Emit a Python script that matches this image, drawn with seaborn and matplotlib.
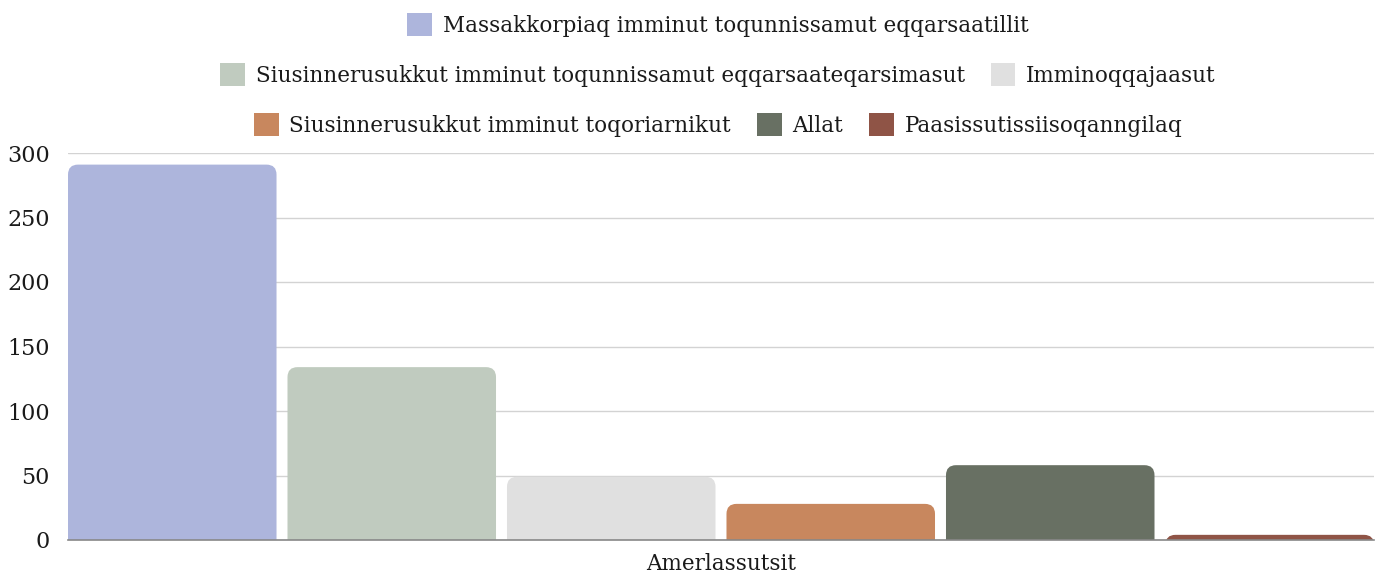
import matplotlib
matplotlib.use("Agg")
import matplotlib.pyplot as plt
from matplotlib.patches import FancyBboxPatch, Patch
import seaborn as sns
import pandas as pd

# Data
category = "Amerlassutsit"
series = [
    "Massakkorpiaq imminut toqunnissamut eqqarsaatillit",
    "Siusinnerusukkut imminut toqunnissamut eqqarsaateqarsimasut",
    "Imminoqqajaasut",
    "Siusinnerusukkut imminut toqoriarnikut",
    "Allat",
    "Paasissutissiisoqanngilaq",
]
values = [291, 134, 49, 28, 58, 4]
colors = ["#adb5dc", "#c0cbbf", "#e0e0e0", "#c8875e", "#687063", "#8f5446"]
yticks = [0, 50, 100, 150, 200, 250, 300]

df = pd.DataFrame({"kategori": [category] * len(series), "serie": series, "amerlassusia": values})

sns.set_theme(style="white")
plt.rcParams["font.family"] = ["DejaVu Serif", "Liberation Serif"]

FS = 15.5
TXT = "#1a1a1a"

fig = plt.figure(figsize=(13.86, 5.74), dpi=100)
ax = fig.add_axes([68 / 1386, 34 / 574, 1306 / 1386, 387 / 574])

sns.barplot(data=df, x="kategori", y="amerlassusia", hue="serie", hue_order=series,
            palette=colors, width=1.0, gap=0.05, legend=False, ax=ax, saturation=1)

# Let the outer bars touch the plot edges
lefts = [p.get_x() for p in ax.patches]
rights = [p.get_x() + p.get_width() for p in ax.patches]
ax.set_xlim(min(lefts), max(rights))
ax.set_ylim(0, 300)

# Replace plain rectangles with bars whose top corners are rounded
x0_lim, x1_lim = ax.get_xlim()
px_x = (x1_lim - x0_lim) / 1306   # data units per pixel, x
px_y = 300.0 / 387                # data units per pixel, y
radius_px = 10
for patch in list(ax.patches):
    x0, w, h = patch.get_x(), patch.get_width(), patch.get_height()
    fc = patch.get_facecolor()
    patch.remove()
    ext = radius_px * px_y
    rounded = FancyBboxPatch(
        (x0, -ext), w, h + ext,
        boxstyle=f"round,pad=0,rounding_size={radius_px * px_x}",
        mutation_aspect=px_y / px_x,
        facecolor=fc, edgecolor="none", linewidth=0, zorder=2,
    )
    rounded.set_clip_path(ax.patch)
    ax.add_patch(rounded)

ax.set_yticks(yticks)
ax.set_yticklabels([str(t) for t in yticks], fontsize=FS + 0.5, color=TXT)
ax.yaxis.grid(True, color="#d3d3d3", linewidth=1)
ax.set_axisbelow(True)
ax.tick_params(axis="y", length=0, pad=13)
ax.tick_params(axis="x", length=0, pad=9, labelsize=FS, labelcolor=TXT)
ax.set_xlabel("")
ax.set_ylabel("")
for side in ["left", "right", "top"]:
    ax.spines[side].set_visible(False)
ax.spines["bottom"].set_color("#888888")
ax.spines["bottom"].set_linewidth(1.2)

# Legend laid out in three rows, centred over the plot area
rows = [[0], [1, 2], [3, 4, 5]]
row_y = [549, 499, 449]
legend_cx = 718 / 1386
for idx_list, yp in zip(rows, row_y):
    handles = [Patch(facecolor=colors[i], edgecolor="none") for i in idx_list]
    labels = [series[i] for i in idx_list]
    fig.legend(handles, labels, loc="center", bbox_to_anchor=(legend_cx, yp / 574),
               ncol=len(idx_list), frameon=False, fontsize=FS,
               handlelength=1.15, handleheight=1.3, handletextpad=0.5,
               columnspacing=1.2, borderpad=0, labelcolor=TXT)

fig.savefig("out.png", dpi=100)
